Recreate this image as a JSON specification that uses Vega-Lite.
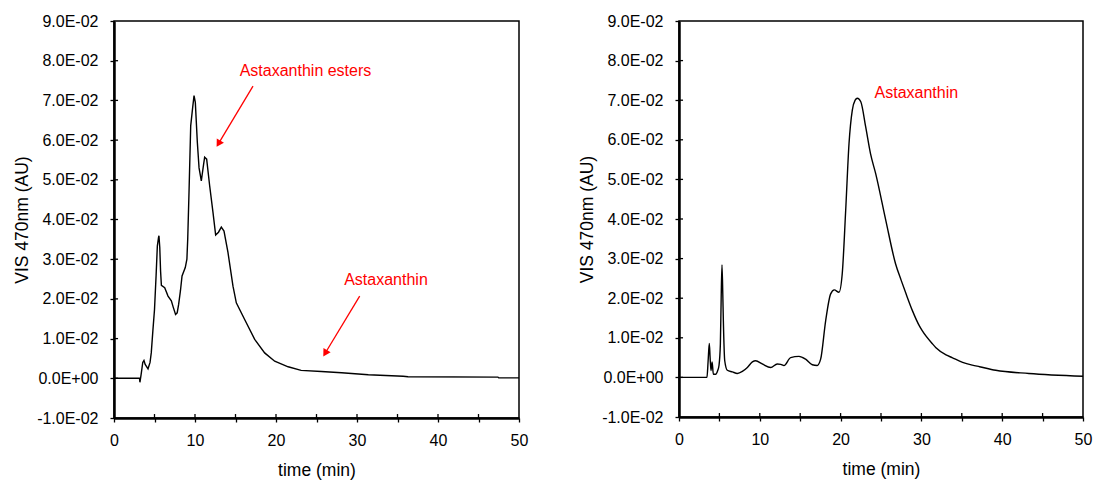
{
  "$schema": "https://vega.github.io/schema/vega-lite/v6.json",
  "padding": {"left": 12, "top": 12, "right": 5, "bottom": 5},
  "spacing": 48,
  "config": {
    "font": "Liberation Sans",
    "view": {"stroke": "black", "strokeWidth": 1.5},
    "axis": {
      "grid": false,
      "domainColor": "black",
      "domainWidth": 2.5,
      "ticks": true,
      "tickSize": 4,
      "tickWidth": 1.3,
      "tickColor": "black",
      "labelColor": "black",
      "labelFontSize": 16,
      "labelOverlap": false,
      "labelFlush": false,
      "titleFontSize": 17.5,
      "titleFontWeight": "normal",
      "titleColor": "black"
    },
    "axisX": {"labelPadding": 10, "titlePadding": 13},
    "axisY": {"labelPadding": 12, "titlePadding": 5}
  },
  "datasets": {
    "left": [
      {"t": 0, "v": 0}, {"t": 3.15, "v": 0}, {"t": 3.2, "v": -0.001}, {"t": 3.35, "v": 0.001},
      {"t": 3.55, "v": 0.004}, {"t": 3.7, "v": 0.0045}, {"t": 3.85, "v": 0.0035}, {"t": 4.2, "v": 0.0024},
      {"t": 4.45, "v": 0.004}, {"t": 4.6, "v": 0.0064}, {"t": 4.8, "v": 0.012}, {"t": 5.0, "v": 0.0173},
      {"t": 5.2, "v": 0.026}, {"t": 5.35, "v": 0.0333}, {"t": 5.5, "v": 0.0355}, {"t": 5.55, "v": 0.0359},
      {"t": 5.65, "v": 0.033}, {"t": 5.75, "v": 0.027}, {"t": 5.85, "v": 0.0234}, {"t": 6.26, "v": 0.0228},
      {"t": 6.67, "v": 0.0207}, {"t": 7.08, "v": 0.0195}, {"t": 7.3, "v": 0.018}, {"t": 7.6, "v": 0.0161},
      {"t": 7.8, "v": 0.0165}, {"t": 7.98, "v": 0.0186}, {"t": 8.2, "v": 0.022}, {"t": 8.4, "v": 0.0258},
      {"t": 8.8, "v": 0.0279}, {"t": 9.0, "v": 0.030}, {"t": 9.1, "v": 0.035}, {"t": 9.26, "v": 0.0468},
      {"t": 9.47, "v": 0.0636}, {"t": 9.7, "v": 0.068}, {"t": 9.88, "v": 0.0712}, {"t": 10.04, "v": 0.0695},
      {"t": 10.29, "v": 0.0594}, {"t": 10.5, "v": 0.053}, {"t": 10.78, "v": 0.0497}, {"t": 11.0, "v": 0.053},
      {"t": 11.19, "v": 0.0557}, {"t": 11.44, "v": 0.0552}, {"t": 11.81, "v": 0.0485}, {"t": 12.22, "v": 0.0418},
      {"t": 12.55, "v": 0.0361}, {"t": 12.9, "v": 0.0368}, {"t": 13.25, "v": 0.0381}, {"t": 13.58, "v": 0.0371},
      {"t": 14.07, "v": 0.0317}, {"t": 14.69, "v": 0.0232}, {"t": 15.1, "v": 0.019}, {"t": 16.13, "v": 0.0148},
      {"t": 17.37, "v": 0.0098}, {"t": 18.6, "v": 0.0064}, {"t": 19.84, "v": 0.0043}, {"t": 21.5, "v": 0.0029},
      {"t": 23.1, "v": 0.002}, {"t": 25.6, "v": 0.0017}, {"t": 28.1, "v": 0.0014}, {"t": 31.4, "v": 0.0009},
      {"t": 35.7, "v": 0.0005}, {"t": 36.3, "v": 0.0004}, {"t": 47.4, "v": 0.0003}, {"t": 47.5, "v": 0.0001},
      {"t": 50, "v": 0.0001}
    ],
    "right": [
      {"t": 0, "v": 0}, {"t": 3.46, "v": 0}, {"t": 3.6, "v": 0.004}, {"t": 3.75, "v": 0.0086},
      {"t": 3.85, "v": 0.005}, {"t": 3.96, "v": 0.0017}, {"t": 4.1, "v": 0.0039}, {"t": 4.25, "v": 0.0008},
      {"t": 4.54, "v": 0.0008}, {"t": 4.8, "v": 0.0018}, {"t": 4.95, "v": 0.003}, {"t": 5.12, "v": 0.0084},
      {"t": 5.22, "v": 0.02}, {"t": 5.32, "v": 0.0284}, {"t": 5.42, "v": 0.021}, {"t": 5.49, "v": 0.0143},
      {"t": 5.66, "v": 0.0042}, {"t": 5.98, "v": 0.0018}, {"t": 6.6, "v": 0.0014}, {"t": 7.22, "v": 0.001},
      {"t": 7.84, "v": 0.0015}, {"t": 8.46, "v": 0.0025}, {"t": 9.08, "v": 0.0039}, {"t": 9.49, "v": 0.0042},
      {"t": 10.3, "v": 0.0034}, {"t": 11.35, "v": 0.0025}, {"t": 12.16, "v": 0.0034}, {"t": 12.6, "v": 0.0033},
      {"t": 12.99, "v": 0.003}, {"t": 13.82, "v": 0.005}, {"t": 14.85, "v": 0.0053}, {"t": 15.67, "v": 0.0046},
      {"t": 16.5, "v": 0.0032}, {"t": 17.1, "v": 0.003}, {"t": 17.53, "v": 0.0046}, {"t": 18.15, "v": 0.0143},
      {"t": 18.77, "v": 0.0211}, {"t": 19.22, "v": 0.0221}, {"t": 19.8, "v": 0.0215}, {"t": 20.2, "v": 0.0261},
      {"t": 20.63, "v": 0.0422}, {"t": 21.04, "v": 0.059}, {"t": 21.45, "v": 0.0675}, {"t": 21.8, "v": 0.07},
      {"t": 22.07, "v": 0.0705}, {"t": 22.5, "v": 0.0696}, {"t": 23.1, "v": 0.0633}, {"t": 23.7, "v": 0.0565},
      {"t": 24.35, "v": 0.0514}, {"t": 25.6, "v": 0.0396}, {"t": 26.8, "v": 0.0287}, {"t": 27.5, "v": 0.0245},
      {"t": 28.1, "v": 0.0211}, {"t": 28.9, "v": 0.0168}, {"t": 29.75, "v": 0.013}, {"t": 30.1, "v": 0.0118},
      {"t": 31.4, "v": 0.0084}, {"t": 31.8, "v": 0.0075}, {"t": 33.05, "v": 0.0057}, {"t": 33.8, "v": 0.005},
      {"t": 35.1, "v": 0.0038}, {"t": 36.3, "v": 0.0031}, {"t": 37.2, "v": 0.0027}, {"t": 39.2, "v": 0.0018},
      {"t": 43.3, "v": 0.001}, {"t": 50, "v": 0.0003}
    ],
    "xticks": [
      {"t": 5}, {"t": 10}, {"t": 15}, {"t": 20}, {"t": 25}, {"t": 30}, {"t": 35}, {"t": 40}, {"t": 45}
    ],
    "yticks": [
      {"v": 0}, {"v": 0.01}, {"v": 0.02}, {"v": 0.03}, {"v": 0.04}, {"v": 0.05}, {"v": 0.06}, {"v": 0.07}, {"v": 0.08}
    ],
    "leftText": [
      {"t": 23.64, "v": 0.0775, "label": "Astaxanthin esters"},
      {"t": 33.58, "v": 0.0247, "label": "Astaxanthin"}
    ],
    "leftArrows": [
      {"t1": 17.16, "v1": 0.0736, "t2": 12.9, "v2": 0.0591, "ang": 211},
      {"t1": 30.33, "v1": 0.0207, "t2": 26.07, "v2": 0.0063, "ang": 211}
    ],
    "rightText": [
      {"t": 29.37, "v": 0.0719, "label": "Astaxanthin"}
    ]
  },
  "hconcat": [
    {
      "width": 405,
      "height": 397,
      "layer": [
        {
          "data": {"name": "left"},
          "mark": {"type": "line", "color": "black", "strokeWidth": 1.4},
          "encoding": {
            "x": {"field": "t", "type": "quantitative", "scale": {"domain": [0, 50], "nice": false},
                  "axis": {"title": "time (min)", "labelOverlap": false, "tickCount": 20, "values": [0, 5, 10, 15, 20, 25, 30, 35, 40, 45, 50],
                           "labelExpr": "datum.value % 10 == 0 ? datum.label : ''"}},
            "y": {"field": "v", "type": "quantitative", "scale": {"domain": [-0.01, 0.09], "nice": false},
                  "axis": {"title": "VIS 470nm (AU)", "labelOverlap": false, "tickCount": 20, "values": [-0.01, 0, 0.01, 0.02, 0.03, 0.04, 0.05, 0.06, 0.07, 0.08, 0.09],
                           "labelExpr": "abs(datum.value) < 1e-9 ? '0.0E+00' : (datum.value < 0 ? '-' : '') + format(abs(datum.value) * 100, '.1f') + 'E-02'"}}
          }
        },
        {
          "data": {"name": "xticks"},
          "mark": {"type": "rule", "color": "black", "strokeWidth": 1.3},
          "encoding": {
            "x": {"field": "t", "type": "quantitative"},
            "y": {"datum": -0.01},
            "y2": {"datum": -0.009}
          }
        },
        {
          "data": {"name": "yticks"},
          "mark": {"type": "rule", "color": "black", "strokeWidth": 1.3},
          "encoding": {
            "y": {"field": "v", "type": "quantitative"},
            "x": {"datum": 0},
            "x2": {"datum": 0.5}
          }
        },
        {
          "data": {"name": "leftText"},
          "mark": {"type": "text", "color": "#ff0000", "fontSize": 16, "align": "center", "baseline": "middle"},
          "encoding": {
            "x": {"field": "t", "type": "quantitative"},
            "y": {"field": "v", "type": "quantitative"},
            "text": {"field": "label"}
          }
        },
        {
          "data": {"name": "leftArrows"},
          "mark": {"type": "rule", "color": "#ff0000", "strokeWidth": 1.3},
          "encoding": {
            "x": {"field": "t1", "type": "quantitative"},
            "y": {"field": "v1", "type": "quantitative"},
            "x2": {"field": "t2"},
            "y2": {"field": "v2"}
          }
        },
        {
          "data": {"name": "leftArrows"},
          "mark": {"type": "point", "shape": "triangle-up", "filled": true, "color": "#ff0000", "size": 70, "opacity": 1},
          "encoding": {
            "x": {"field": "t2", "type": "quantitative"},
            "y": {"field": "v2", "type": "quantitative"},
            "angle": {"field": "ang", "type": "quantitative", "scale": null}
          }
        }
      ]
    },
    {
      "width": 404,
      "height": 396,
      "layer": [
        {
          "data": {"name": "right"},
          "mark": {"type": "line", "color": "black", "strokeWidth": 1.4, "interpolate": "monotone"},
          "encoding": {
            "x": {"field": "t", "type": "quantitative", "scale": {"domain": [0, 50], "nice": false},
                  "axis": {"title": "time (min)", "labelOverlap": false, "tickCount": 20, "values": [0, 5, 10, 15, 20, 25, 30, 35, 40, 45, 50],
                           "labelExpr": "datum.value % 10 == 0 ? datum.label : ''"}},
            "y": {"field": "v", "type": "quantitative", "scale": {"domain": [-0.01, 0.09], "nice": false},
                  "axis": {"title": "VIS 470nm (AU)", "labelOverlap": false, "tickCount": 20, "values": [-0.01, 0, 0.01, 0.02, 0.03, 0.04, 0.05, 0.06, 0.07, 0.08, 0.09],
                           "labelExpr": "abs(datum.value) < 1e-9 ? '0.0E+00' : (datum.value < 0 ? '-' : '') + format(abs(datum.value) * 100, '.1f') + 'E-02'"}}
          }
        },
        {
          "data": {"name": "xticks"},
          "mark": {"type": "rule", "color": "black", "strokeWidth": 1.3},
          "encoding": {
            "x": {"field": "t", "type": "quantitative"},
            "y": {"datum": -0.01},
            "y2": {"datum": -0.009}
          }
        },
        {
          "data": {"name": "yticks"},
          "mark": {"type": "rule", "color": "black", "strokeWidth": 1.3},
          "encoding": {
            "y": {"field": "v", "type": "quantitative"},
            "x": {"datum": 0},
            "x2": {"datum": 0.5}
          }
        },
        {
          "data": {"name": "rightText"},
          "mark": {"type": "text", "color": "#ff0000", "fontSize": 16, "align": "center", "baseline": "middle"},
          "encoding": {
            "x": {"field": "t", "type": "quantitative"},
            "y": {"field": "v", "type": "quantitative"},
            "text": {"field": "label"}
          }
        }
      ]
    }
  ]
}
